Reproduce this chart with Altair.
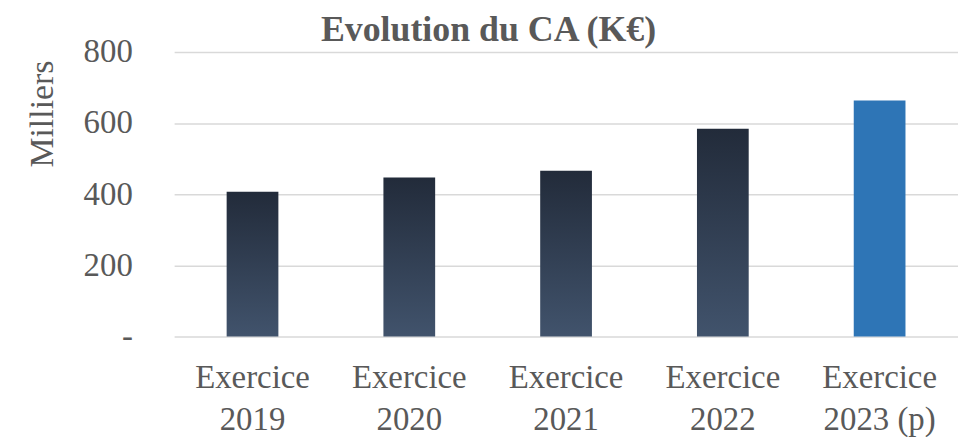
import altair as alt
import pandas as pd

categories = ["Exercice 2019", "Exercice 2020", "Exercice 2021", "Exercice 2022", "Exercice 2023 (p)"]
values = [407, 447, 466, 584, 663]
kind = ["réel", "réel", "réel", "réel", "prévisionnel"]

df = pd.DataFrame({"exercice": categories, "ca": values, "type": kind})

FONT = "Liberation Serif"
GRAY = "#595959"

gradient = alt.Gradient(
    gradient="linear",
    stops=[alt.GradientStop(color="#222b3a", offset=0), alt.GradientStop(color="#41536c", offset=1)],
    x1=0, x2=0, y1=0, y2=1,
)

x_enc = alt.X(
    "exercice:N",
    sort=categories,
    scale=alt.Scale(paddingInner=0.67, paddingOuter=0.335),
    axis=alt.Axis(
        title=None,
        labelAngle=0,
        labelFont=FONT,
        labelFontSize=33,
        labelColor=GRAY,
        labelExpr="[slice(datum.label, 0, 8), slice(datum.label, 9)]",
        labelLineHeight=43,
        labelPadding=25,
        labelBaseline="top",
        ticks=False,
        domain=False,
        grid=False,
    ),
)
y_enc = alt.Y(
    "ca:Q",
    scale=alt.Scale(domain=[0, 800]),
    axis=alt.Axis(
        title="Milliers",
        titleFont=FONT,
        titleFontSize=34,
        titleFontWeight="normal",
        titleColor=GRAY,
        titleAngle=-90,
        titleX=-122,
        titleY=62,
        titleAlign="center",
        titleBaseline="alphabetic",
        values=[0, 200, 400, 600, 800],
        labelExpr="datum.value == 0 ? '-' : datum.label",
        labelFont=FONT,
        labelFontSize=33,
        labelColor=GRAY,
        labelPadding=42,
        ticks=False,
        domain=False,
        grid=True,
        gridColor="#d9d9d9",
        gridWidth=1.5,
    ),
)

base = alt.Chart(df)
bars_real = base.transform_filter(alt.datum.type == "réel").mark_bar(color=gradient).encode(x=x_enc, y=y_enc)
bar_prev = base.transform_filter(alt.datum.type == "prévisionnel").mark_bar(color="#2e75b6").encode(x=x_enc, y=y_enc)

chart = (
    alt.layer(bars_real, bar_prev)
    .properties(
        width=788,
        height=286,
        autosize=alt.AutoSizeParams(type="none"),
        padding={"left": 167, "top": 43, "right": 0, "bottom": 100},
        title=alt.TitleParams(
            "Evolution du CA (K€)",
            font=FONT,
            fontSize=36,
            fontWeight="bold",
            color=GRAY,
            anchor="middle",
            frame="group",
            offset=-13,
            dx=-78,
        ),
    )
    .configure_view(stroke=None)
)

chart.save("out.html", embed_options={"renderer": "svg", "actions": False})
